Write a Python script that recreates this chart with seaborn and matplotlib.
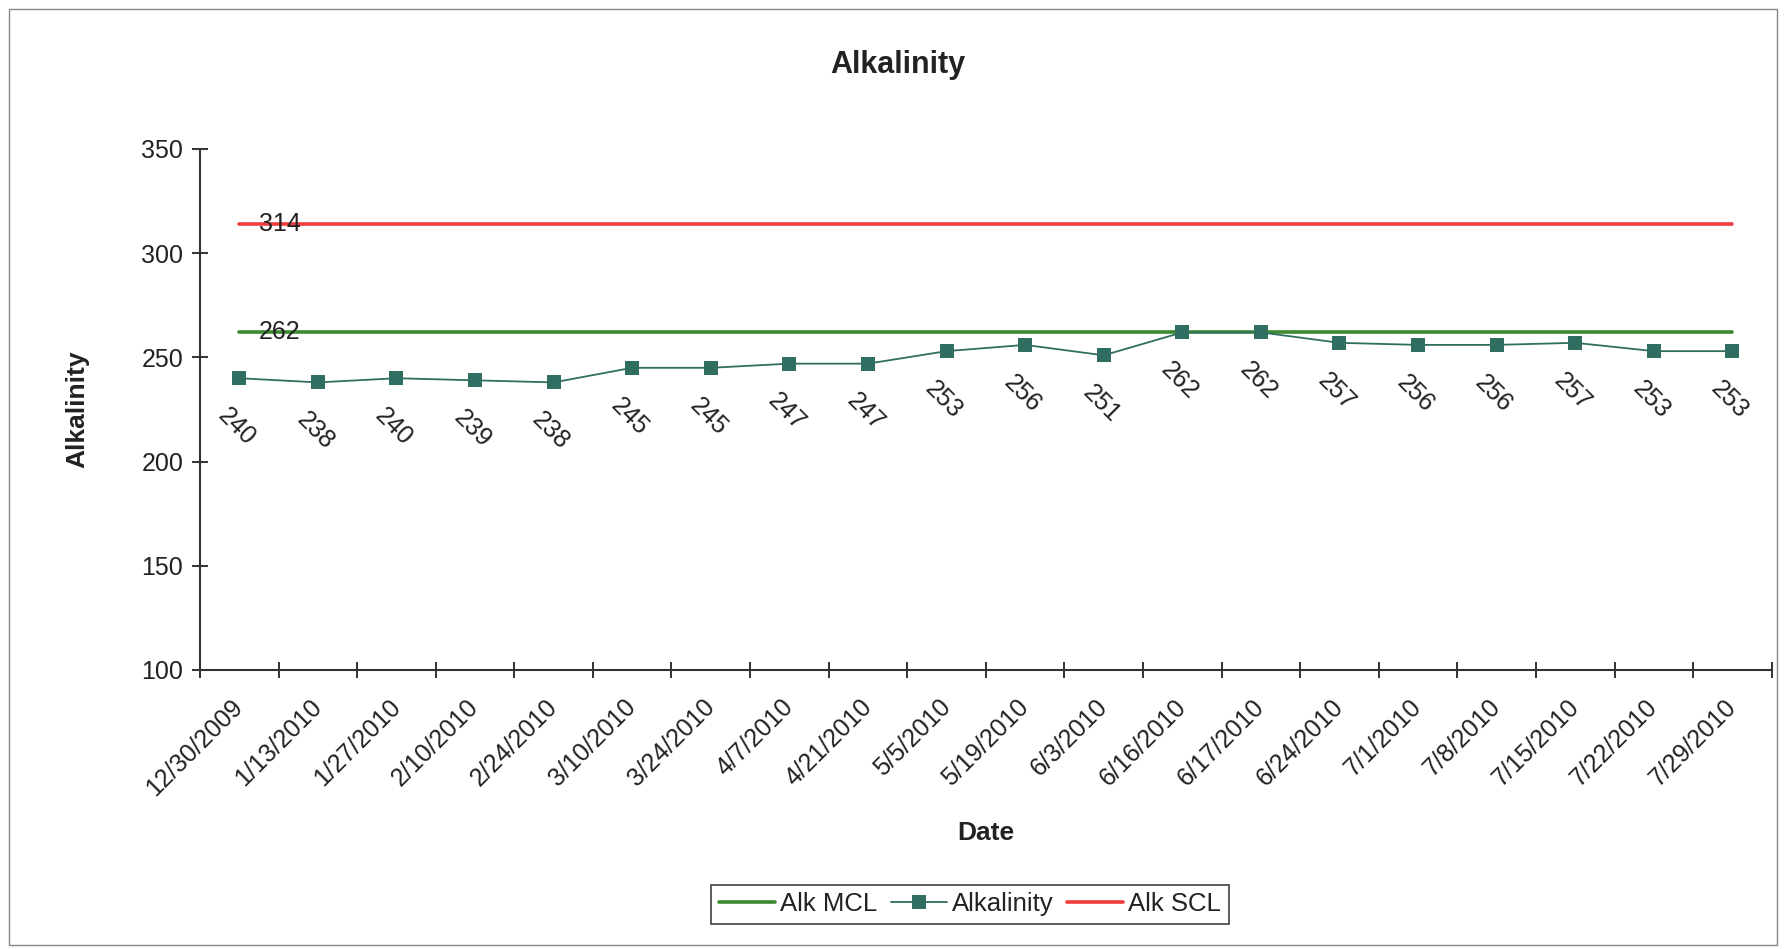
import numpy as np
import pandas as pd
import matplotlib.pyplot as plt
import matplotlib.transforms as mtransforms
import seaborn as sns
from matplotlib.patches import Rectangle

dates = ['12/30/2009', '1/13/2010', '1/27/2010', '2/10/2010', '2/24/2010',
         '3/10/2010', '3/24/2010', '4/7/2010', '4/21/2010', '5/5/2010',
         '5/19/2010', '6/3/2010', '6/16/2010', '6/17/2010', '6/24/2010',
         '7/1/2010', '7/8/2010', '7/15/2010', '7/22/2010', '7/29/2010']
alkalinity = [240, 238, 240, 239, 238, 245, 245, 247, 247, 253,
              256, 251, 262, 262, 257, 256, 256, 257, 253, 253]
alk_mcl = [262] * len(dates)
alk_scl = [314] * len(dates)

green = '#3d8a2e'
teal = '#2f6e60'
red = '#f03c3c'
txt = '#222222'

sns.set_style('white')
plt.rcParams['font.family'] = ['Liberation Sans', 'DejaVu Sans']

df = pd.DataFrame({'pos': np.arange(len(dates)), 'Date': dates,
                   'Alk MCL': alk_mcl, 'Alkalinity': alkalinity, 'Alk SCL': alk_scl})

fig = plt.figure(figsize=(17.84, 9.49), dpi=100)
ax = fig.add_axes([0.1121, 0.294, 0.881, 0.549])

sns.lineplot(data=df, x='pos', y='Alk MCL', color=green, lw=2.6, ax=ax, label='Alk MCL')
sns.lineplot(data=df, x='pos', y='Alkalinity', color=teal, lw=1.3, marker='s',
             markersize=10, markeredgewidth=0, ax=ax, label='Alkalinity')
sns.lineplot(data=df, x='pos', y='Alk SCL', color=red, lw=2.6, ax=ax, label='Alk SCL')

# point labels
for i, v in enumerate(alkalinity):
    ax.annotate(str(v), (i, v), xytext=(-2, -35), textcoords='offset points',
                rotation=-45, ha='center', va='center', fontsize=18, color=txt)
ax.annotate(str(alk_scl[0]), (0, alk_scl[0]), xytext=(14, 0), textcoords='offset points',
            ha='left', va='center', fontsize=18, color=txt)
ax.annotate(str(alk_mcl[0]), (0, alk_mcl[0]), xytext=(14, 0), textcoords='offset points',
            ha='left', va='center', fontsize=18, color=txt)

ax.set_xlim(-0.5, len(dates) - 0.5)
ax.set_ylim(100, 350)
ax.set_yticks([100, 150, 200, 250, 300, 350])
ax.set_xticks(df['pos'])
ax.set_xticklabels(dates, rotation=45, ha='right', va='center', rotation_mode='anchor',
                   fontsize=18, color=txt)
shift = mtransforms.ScaledTranslation(-0.09, 0.0, fig.dpi_scale_trans)
for lab in ax.get_xticklabels():
    lab.set_transform(lab.get_transform() + shift)
ax.set_xticks(np.arange(len(dates) + 1) - 0.5, minor=True)
ax.tick_params(axis='x', which='major', length=0, pad=24, bottom=True)
ax.tick_params(axis='x', which='minor', direction='inout', length=12, width=1.4,
               color='#333333', bottom=True)
ax.tick_params(axis='y', direction='inout', length=12, width=1.4, color='#333333',
               labelsize=18, labelcolor=txt, pad=6, left=True)

for s in ['top', 'right']:
    ax.spines[s].set_visible(False)
for s in ['left', 'bottom']:
    ax.spines[s].set_color('#333333')
    ax.spines[s].set_linewidth(1.5)

ax.set_xlabel('Date', fontsize=19, fontweight='bold', color=txt)
ax.xaxis.set_label_coords(0.5, -0.313)
ax.xaxis.label.set_va('center')
ax.set_ylabel('Alkalinity', fontsize=19, fontweight='bold', color=txt)
ax.yaxis.set_label_coords(-0.078, 0.5)
ax.yaxis.label.set_va('center')

fig.text(0.503, 0.923, 'Alkalinity', fontsize=22, fontweight='bold', color=txt,
         ha='center', va='baseline')

handles, labels = ax.get_legend_handles_labels()
ax.get_legend().remove()
leg = fig.legend(handles, labels, loc='center', bbox_to_anchor=(0.5437, 0.047), ncol=3,
                 frameon=True, fancybox=False, edgecolor='#222222', fontsize=18.5,
                 handlelength=2.2, handletextpad=0.2, columnspacing=0.5,
                 borderpad=0.3)
leg.get_frame().set_linewidth(1.3)
for t in leg.get_texts():
    t.set_color(txt)

fig.patches.append(Rectangle((0.005, 0.004), 0.991, 0.986, transform=fig.transFigure,
                             fill=False, ec='#888888', lw=1))

fig.savefig('out.png', dpi=100)
